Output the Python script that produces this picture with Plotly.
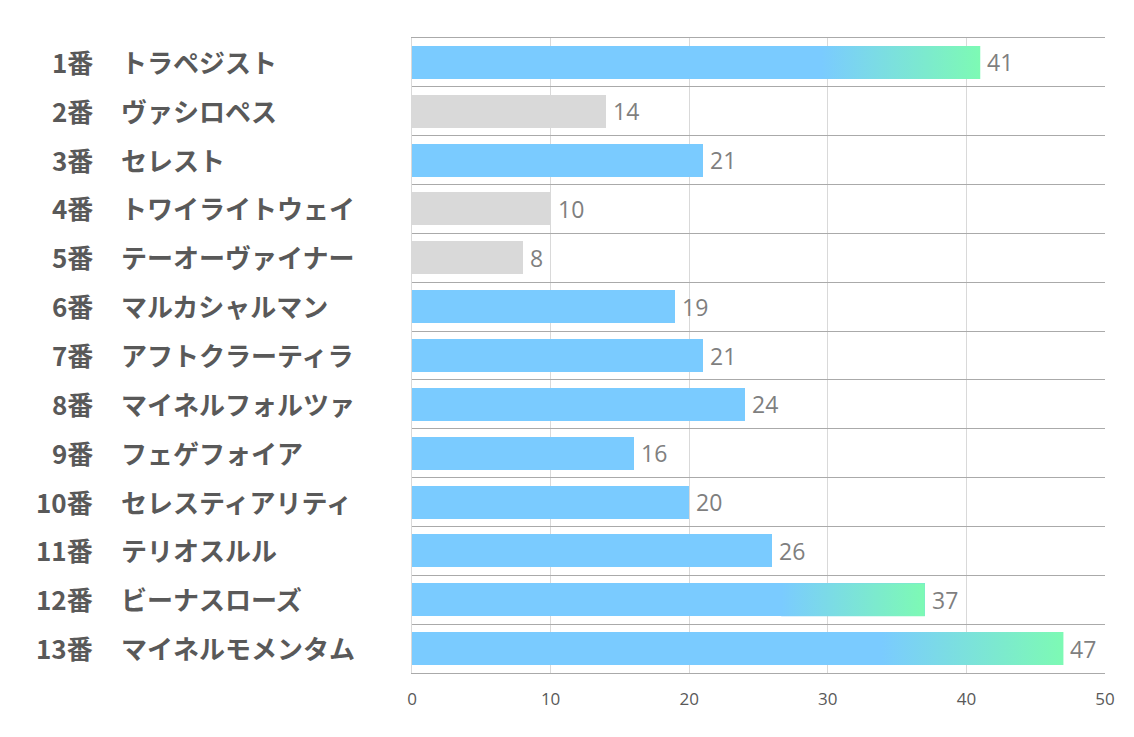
import plotly.graph_objects as go

numbers = ["1番", "2番", "3番", "4番", "5番", "6番", "7番", "8番", "9番", "10番", "11番", "12番", "13番"]
names = ["トラペジスト", "ヴァシロペス", "セレスト", "トワイライトウェイ", "テーオーヴァイナー",
         "マルカシャルマン", "アフトクラーティラ", "マイネルフォルツァ", "フェゲフォイア",
         "セレスティアリティ", "テリオスルル", "ビーナスローズ", "マイネルモメンタム"]
values = [41, 14, 21, 10, 8, 19, 21, 24, 16, 20, 26, 37, 47]
x_ticks = [0, 10, 20, 30, 40, 50]

BLUE = "rgb(122,203,255)"
GREEN = "rgb(125,250,180)"
GRAY = "rgb(217,217,217)"
BAR_W = 0.675
GRAD_START = 0.72

n = len(values)
ypos = list(range(n))
ranked = sorted(values)
low3 = ranked[:3]
top3 = ranked[-3:]
colors = [GRAY if v in low3 else BLUE for v in values]

fig = go.Figure()
fig.add_trace(go.Bar(
    x=values, y=ypos, orientation="h", width=BAR_W,
    marker=dict(color=colors, line=dict(width=0)),
    hoverinfo="skip", showlegend=False,
))

for i, v in enumerate(values):
    if v in top3:
        x0 = v * GRAD_START
        y0, y1 = i - BAR_W / 2, i + BAR_W / 2
        fig.add_trace(go.Scatter(
            x=[x0, v, v, x0, x0], y=[y0, y0, y1, y1, y0],
            mode="lines", line=dict(width=0), fill="toself",
            fillgradient=dict(type="horizontal", colorscale=[[0, BLUE], [1, GREEN]]),
            hoverinfo="skip", showlegend=False,
        ))

OFF = 8  # page offset
W, H = 1134, 737
L = 412 - OFF
T = 38 - OFF
pw = 1105 - 412
ph = 673 - 38
R = W - L - pw
B = H - T - ph

LABEL_FONT = dict(family="Noto Sans CJK JP", size=26, color="rgb(89,89,89)", weight="bold")
annotations = []
for i in range(n):
    annotations.append(dict(
        x=(95 - 412) / pw, xref="paper", y=i, yref="y", text=numbers[i],
        showarrow=False, xanchor="right", yanchor="middle", font=LABEL_FONT, yshift=1,
    ))
    annotations.append(dict(
        x=(119 - 412) / pw, xref="paper", y=i, yref="y", text=names[i],
        showarrow=False, xanchor="left", yanchor="middle", font=LABEL_FONT, yshift=1,
    ))
    annotations.append(dict(
        x=values[i], xref="x", y=i, yref="y", text=str(values[i]),
        showarrow=False, xanchor="left", yanchor="middle", xshift=5,
        font=dict(family="Open Sans, Noto Sans, sans-serif", size=23, color="rgb(127,127,127)"),
    ))

fig.update_layout(
    width=W, height=H,
    margin=dict(l=L, r=R, t=T, b=B),
    paper_bgcolor="white", plot_bgcolor="white",
    annotations=annotations,
    bargap=0,
)
fig.update_xaxes(
    range=[0, 50], tickvals=x_ticks, showgrid=True, gridcolor="rgb(217,217,217)", gridwidth=1,
    zeroline=False, showline=True, linecolor="rgb(170,170,170)", linewidth=1, mirror=True,
    tickfont=dict(family="Open Sans, Noto Sans, sans-serif", size=17, color="rgb(89,89,89)"),
    ticks="", ticklabelstandoff=11,
)
fig.update_yaxes(
    range=[n - 0.5, -0.5], tickvals=[k - 0.5 for k in range(n + 1)],
    showticklabels=False, showgrid=True, gridcolor="rgb(170,170,170)", gridwidth=1,
    zeroline=False, showline=True, linecolor="rgb(217,217,217)", linewidth=1, mirror=False, ticks="",
)

fig.write_html("out.html")
